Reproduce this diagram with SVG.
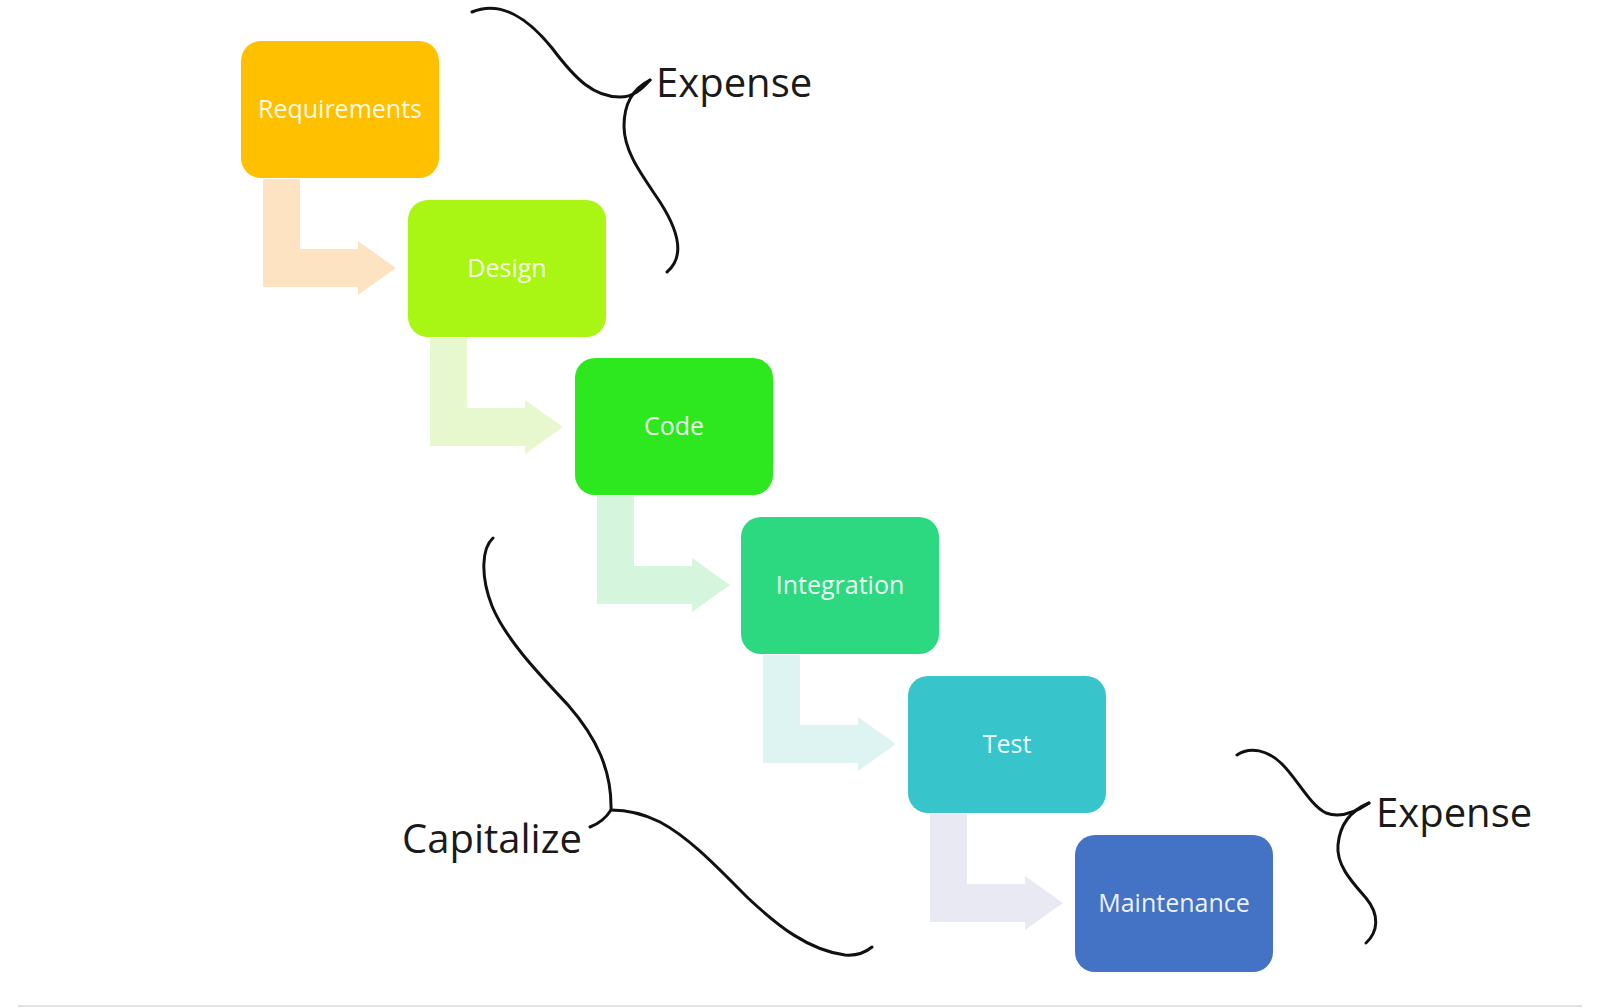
<svg xmlns="http://www.w3.org/2000/svg" width="1600" height="1008" viewBox="0 0 1600 1008">
<style>
.box{stroke:none}
.lbl{font-family:"Open Sans","Liberation Sans",sans-serif;font-size:25px;fill:#ffffff;fill-opacity:0.93;text-anchor:middle;dominant-baseline:central}
.note{font-family:"Open Sans","Liberation Sans",sans-serif;font-size:40px;fill:#1a1a1a}
.brace{fill:none;stroke:#111;stroke-width:3;stroke-linecap:round;stroke-linejoin:round}
</style>
<defs>
<path id="bend" d="M 22 138 H 59 V 208 H 117 V 200 L 155 227 L 117 254 V 246 H 22 Z"/>
</defs>
<rect width="1600" height="1008" fill="#ffffff"/>
<g id="connectors">
<use href="#bend" transform="translate(241,41)" fill="#FDE3C2"/>
<use href="#bend" transform="translate(408,200)" fill="#E7F8CF"/>
<use href="#bend" transform="translate(575,358)" fill="#D5F5DD"/>
<use href="#bend" transform="translate(741,517)" fill="#DDF4F3"/>
<use href="#bend" transform="translate(908,676)" fill="#E8E9F3"/>
</g>
<g id="requirements" transform="translate(241,41)">
<rect class="box" width="198" height="137" rx="20" fill="#FFC000"/>
<text class="lbl" x="99" y="67">Requirements</text>
</g>
<g id="design" transform="translate(408,200)">
<rect class="box" width="198" height="137" rx="20" fill="#A9F514"/>
<text class="lbl" x="99" y="67">Design</text>
</g>
<g id="code" transform="translate(575,358)">
<rect class="box" width="198" height="137" rx="20" fill="#2DE81E"/>
<text class="lbl" x="99" y="67">Code</text>
</g>
<g id="integration" transform="translate(741,517)">
<rect class="box" width="198" height="137" rx="20" fill="#2CD981"/>
<text class="lbl" x="99" y="67">Integration</text>
</g>
<g id="test" transform="translate(908,676)">
<rect class="box" width="198" height="137" rx="20" fill="#37C5CB"/>
<text class="lbl" x="99" y="67">Test</text>
</g>
<g id="maintenance" transform="translate(1075,835)">
<rect class="box" width="198" height="137" rx="20" fill="#4472C4"/>
<text class="lbl" x="99" y="67">Maintenance</text>
</g>
<g id="expense-top">
<path class="brace" d="M 472 12 C 500 0, 528 18, 552 48 C 576 80, 594 97, 620 97 C 633 97, 641 90, 650 80"/>
<path class="brace" d="M 650 80 C 634 88, 624 102, 624 126 C 624 152, 642 175, 660 202 C 678 230, 686 256, 667 272"/>
<text class="note" x="656" y="97">Expense</text>
</g>
<g id="capitalize">
<path class="brace" d="M 493 538 C 482 548, 480 575, 492 606 C 506 640, 540 675, 568 705 C 596 737, 612 770, 611 810 C 606 818, 598 824, 590 827"/>
<path class="brace" d="M 611 810 C 624 810, 640 812, 660 822 C 690 838, 718 868, 748 898 C 778 926, 808 950, 845 955 C 858 956, 866 952, 872 947"/>
<text class="note" x="402" y="853">Capitalize</text>
</g>
<g id="expense-bottom">
<path class="brace" d="M 1237 755 C 1250 746, 1268 750, 1282 764 C 1298 780, 1310 805, 1326 813 C 1340 818, 1356 812, 1369 803"/>
<path class="brace" d="M 1369 803 C 1352 810, 1340 822, 1338 845 C 1336 865, 1352 882, 1366 898 C 1380 915, 1378 932, 1366 943"/>
<text class="note" x="1376" y="827">Expense</text>
</g>
<line x1="18" y1="1006" x2="1582" y2="1006" stroke="#E4E4E4" stroke-width="2"/>
</svg>
